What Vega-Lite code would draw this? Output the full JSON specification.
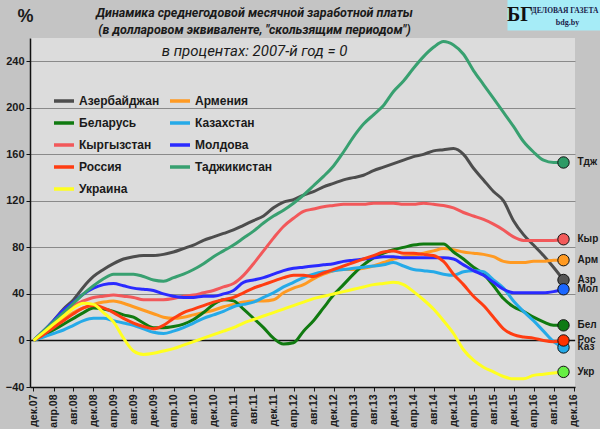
{
  "$schema": "https://vega.github.io/schema/vega-lite/v6.json",
  "width": 545,
  "height": 349,
  "autosize": {"type": "none"},
  "padding": {"left": 30, "top": 38, "right": 25, "bottom": 42},
  "background": "#c4c4c4",
  "config": {
    "view": {"fill": "#dcdcdc", "stroke": null},
    "font": "Liberation Sans",
    "axisX": {"labelOverlap": false}
  },
  "title": {
    "text": ["Динамика среднегодовой  месячной  заработной платы", "(в долларовом эквиваленте, \"скользящим периодом\")"],
    "subtitle": "в процентах: 2007-й год = 0",
    "anchor": "middle",
    "dx": -48,
    "dy": 60,
    "offset": 0,
    "font": "Roboto",
    "fontSize": 12.5,
    "fontStyle": "italic",
    "fontWeight": "bold",
    "color": "#1a1a1a",
    "lineHeight": 17,
    "subtitleFont": "Roboto",
    "subtitleFontSize": 15,
    "subtitleFontStyle": "italic",
    "subtitleColor": "#1a1a1a",
    "subtitlePadding": 8
  },
  "data": {"name": "wages"},
  "datasets": {
    "wages": [
      {"m": 0, "Азербайджан": 0, "Армения": 0, "Беларусь": 0, "Казахстан": 0, "Кыргызстан": 0, "Молдова": 0, "Россия": 0, "Таджикистан": 0, "Украина": 0},
      {"m": 2, "Азербайджан": 8, "Армения": 6, "Беларусь": 4, "Казахстан": 3, "Кыргызстан": 7, "Молдова": 8, "Россия": 5, "Таджикистан": 8, "Украина": 7},
      {"m": 4, "Азербайджан": 17, "Армения": 12, "Беларусь": 9, "Казахстан": 6, "Кыргызстан": 15, "Молдова": 17, "Россия": 11, "Таджикистан": 16, "Украина": 14},
      {"m": 6, "Азербайджан": 27, "Армения": 18, "Беларусь": 14, "Казахстан": 9, "Кыргызстан": 22, "Молдова": 26, "Россия": 17, "Таджикистан": 24, "Украина": 21},
      {"m": 8, "Азербайджан": 35, "Армения": 24, "Беларусь": 19, "Казахстан": 13, "Кыргызстан": 30, "Молдова": 33, "Россия": 23, "Таджикистан": 32, "Украина": 28},
      {"m": 10, "Азербайджан": 46, "Армения": 28, "Беларусь": 24, "Казахстан": 17, "Кыргызстан": 34, "Молдова": 40, "Россия": 28, "Таджикистан": 40, "Украина": 32},
      {"m": 12, "Азербайджан": 55, "Армения": 31, "Беларусь": 28, "Казахстан": 19, "Кыргызстан": 37, "Молдова": 45, "Россия": 30, "Таджикистан": 47, "Украина": 31},
      {"m": 14, "Азербайджан": 61, "Армения": 33, "Беларусь": 27, "Казахстан": 19, "Кыргызстан": 38, "Молдова": 48, "Россия": 28, "Таджикистан": 53, "Украина": 24},
      {"m": 16, "Азербайджан": 66, "Армения": 34, "Беларусь": 25, "Казахстан": 17, "Кыргызстан": 39, "Молдова": 49, "Россия": 24, "Таджикистан": 57, "Украина": 16},
      {"m": 18, "Азербайджан": 70, "Армения": 32, "Беларусь": 22, "Казахстан": 15, "Кыргызстан": 38, "Молдова": 47, "Россия": 19, "Таджикистан": 57, "Украина": 2},
      {"m": 20, "Азербайджан": 72, "Армения": 29, "Беларусь": 20, "Казахстан": 13, "Кыргызстан": 37, "Молдова": 45, "Россия": 15, "Таджикистан": 57, "Украина": -9},
      {"m": 22, "Азербайджан": 73, "Армения": 26, "Беларусь": 15, "Казахстан": 10, "Кыргызстан": 35, "Молдова": 44, "Россия": 12, "Таджикистан": 55, "Украина": -12},
      {"m": 24, "Азербайджан": 73, "Армения": 23, "Беларусь": 11, "Казахстан": 7, "Кыргызстан": 35, "Молдова": 43, "Россия": 10, "Таджикистан": 52, "Украина": -11},
      {"m": 26, "Азербайджан": 74, "Армения": 20, "Беларусь": 11, "Казахстан": 6, "Кыргызстан": 35, "Молдова": 40, "Россия": 13, "Таджикистан": 51, "Украина": -9},
      {"m": 28, "Азербайджан": 76, "Армения": 19, "Беларусь": 12, "Казахстан": 8, "Кыргызстан": 36, "Молдова": 38, "Россия": 19, "Таджикистан": 54, "Украина": -7},
      {"m": 30, "Азербайджан": 79, "Армения": 20, "Беларусь": 14, "Казахстан": 11, "Кыргызстан": 38, "Молдова": 37, "Россия": 24, "Таджикистан": 57, "Украина": -4},
      {"m": 32, "Азербайджан": 82, "Армения": 22, "Беларусь": 18, "Казахстан": 15, "Кыргызстан": 39, "Молдова": 37, "Россия": 27, "Таджикистан": 61, "Украина": -1},
      {"m": 34, "Азербайджан": 86, "Армения": 24, "Беларусь": 24, "Казахстан": 19, "Кыргызстан": 41, "Молдова": 38, "Россия": 30, "Таджикистан": 66, "Украина": 2},
      {"m": 36, "Азербайджан": 89, "Армения": 26, "Беларусь": 31, "Казахстан": 22, "Кыргызстан": 43, "Молдова": 38, "Россия": 33, "Таджикистан": 72, "Украина": 5},
      {"m": 38, "Азербайджан": 92, "Армения": 29, "Беларусь": 35, "Казахстан": 25, "Кыргызстан": 46, "Молдова": 40, "Россия": 35, "Таджикистан": 77, "Украина": 8},
      {"m": 40, "Азербайджан": 95, "Армения": 31, "Беларусь": 34, "Казахстан": 29, "Кыргызстан": 49, "Молдова": 43, "Россия": 37, "Таджикистан": 82, "Украина": 11},
      {"m": 42, "Азербайджан": 99, "Армения": 33, "Беларусь": 27, "Казахстан": 31, "Кыргызстан": 56, "Молдова": 50, "Россия": 41, "Таджикистан": 88, "Украина": 15},
      {"m": 44, "Азербайджан": 103, "Армения": 34, "Беларусь": 19, "Казахстан": 33, "Кыргызстан": 66, "Молдова": 52, "Россия": 45, "Таджикистан": 94, "Украина": 18},
      {"m": 46, "Азербайджан": 107, "Армения": 34, "Беларусь": 11, "Казахстан": 37, "Кыргызстан": 77, "Молдова": 54, "Россия": 48, "Таджикистан": 101, "Украина": 21},
      {"m": 48, "Азербайджан": 114, "Армения": 35, "Беларусь": 2, "Казахстан": 41, "Кыргызстан": 88, "Молдова": 57, "Россия": 51, "Таджикистан": 107, "Украина": 24},
      {"m": 50, "Азербайджан": 119, "Армения": 41, "Беларусь": -3, "Казахстан": 46, "Кыргызстан": 98, "Молдова": 60, "Россия": 54, "Таджикистан": 112, "Украина": 27},
      {"m": 52, "Азербайджан": 121, "Армения": 45, "Беларусь": -2, "Казахстан": 50, "Кыргызстан": 105, "Молдова": 62, "Россия": 56, "Таджикистан": 118, "Украина": 30},
      {"m": 54, "Азербайджан": 125, "Армения": 48, "Беларусь": 8, "Казахстан": 54, "Кыргызстан": 111, "Молдова": 63, "Россия": 56, "Таджикистан": 125, "Украина": 33},
      {"m": 56, "Азербайджан": 128, "Армения": 53, "Беларусь": 17, "Казахстан": 57, "Кыргызстан": 113, "Молдова": 64, "Россия": 55, "Таджикистан": 133, "Украина": 36},
      {"m": 58, "Азербайджан": 132, "Армения": 57, "Беларусь": 28, "Казахстан": 59, "Кыргызстан": 115, "Молдова": 65, "Россия": 58, "Таджикистан": 141, "Украина": 38},
      {"m": 60, "Азербайджан": 135, "Армения": 60, "Беларусь": 39, "Казахстан": 60, "Кыргызстан": 116, "Молдова": 66, "Россия": 61, "Таджикистан": 150, "Украина": 40},
      {"m": 62, "Азербайджан": 138, "Армения": 61, "Беларусь": 48, "Казахстан": 61, "Кыргызстан": 117, "Молдова": 68, "Россия": 64, "Таджикистан": 162, "Украина": 42},
      {"m": 64, "Азербайджан": 140, "Армения": 61, "Беларусь": 57, "Казахстан": 62, "Кыргызстан": 117, "Молдова": 69, "Россия": 67, "Таджикистан": 175, "Украина": 44},
      {"m": 66, "Азербайджан": 142, "Армения": 62, "Беларусь": 65, "Казахстан": 63, "Кыргызстан": 117, "Молдова": 70, "Россия": 70, "Таджикистан": 186, "Украина": 46},
      {"m": 68, "Азербайджан": 146, "Армения": 64, "Беларусь": 71, "Казахстан": 64, "Кыргызстан": 118, "Молдова": 71, "Россия": 73, "Таджикистан": 194, "Украина": 48},
      {"m": 70, "Азербайджан": 149, "Армения": 67, "Беларусь": 75, "Казахстан": 65, "Кыргызстан": 118, "Молдова": 72, "Россия": 76, "Таджикистан": 202, "Украина": 49},
      {"m": 72, "Азербайджан": 152, "Армения": 70, "Беларусь": 78, "Казахстан": 67, "Кыргызстан": 118, "Молдова": 72, "Россия": 77, "Таджикистан": 214, "Украина": 50},
      {"m": 74, "Азербайджан": 155, "Армения": 72, "Беларусь": 80, "Казахстан": 64, "Кыргызстан": 117, "Молдова": 71, "Россия": 75, "Таджикистан": 223, "Украина": 48},
      {"m": 76, "Азербайджан": 158, "Армения": 73, "Беларусь": 82, "Казахстан": 61, "Кыргызстан": 117, "Молдова": 71, "Россия": 75, "Таджикистан": 234, "Украина": 42},
      {"m": 78, "Азербайджан": 160, "Армения": 75, "Беларусь": 83, "Казахстан": 60, "Кыргызстан": 118, "Молдова": 71, "Россия": 74, "Таджикистан": 244, "Украина": 35},
      {"m": 80, "Азербайджан": 163, "Армения": 77, "Беларусь": 83, "Казахстан": 59, "Кыргызстан": 117, "Молдова": 71, "Россия": 73, "Таджикистан": 252, "Украина": 27},
      {"m": 82, "Азербайджан": 164, "Армения": 79, "Беларусь": 83, "Казахстан": 57, "Кыргызстан": 116, "Молдова": 71, "Россия": 68, "Таджикистан": 257, "Украина": 17},
      {"m": 84, "Азербайджан": 165, "Армения": 78, "Беларусь": 76, "Казахстан": 56, "Кыргызстан": 114, "Молдова": 70, "Россия": 57, "Таджикистан": 254, "Украина": 6},
      {"m": 86, "Азербайджан": 160, "Армения": 76, "Беларусь": 70, "Казахстан": 59, "Кыргызстан": 110, "Молдова": 65, "Россия": 48, "Таджикистан": 246, "Украина": -8},
      {"m": 88, "Азербайджан": 148, "Армения": 75, "Беларусь": 63, "Казахстан": 60, "Кыргызстан": 107, "Молдова": 60, "Россия": 38, "Таджикистан": 232, "Украина": -17},
      {"m": 90, "Азербайджан": 138, "Армения": 74, "Беларусь": 57, "Казахстан": 59, "Кыргызстан": 104, "Молдова": 56, "Россия": 30, "Таджикистан": 220, "Украина": -23},
      {"m": 92, "Азербайджан": 128, "Армения": 72, "Беларусь": 47, "Казахстан": 52, "Кыргызстан": 100, "Молдова": 50, "Россия": 20, "Таджикистан": 208, "Украина": -27},
      {"m": 94, "Азербайджан": 120, "Армения": 68, "Беларусь": 36, "Казахстан": 45, "Кыргызстан": 95, "Молдова": 44, "Россия": 10, "Таджикистан": 196, "Украина": -31},
      {"m": 96, "Азербайджан": 103, "Армения": 67, "Беларусь": 29, "Казахстан": 34, "Кыргызстан": 89, "Молдова": 41, "Россия": 5, "Таджикистан": 184, "Украина": -33},
      {"m": 98, "Азербайджан": 91, "Армения": 67, "Беларусь": 25, "Казахстан": 25, "Кыргызстан": 86, "Молдова": 41, "Россия": 3, "Таджикистан": 171, "Украина": -33},
      {"m": 100, "Азербайджан": 82, "Армения": 68, "Беларусь": 20, "Казахстан": 17, "Кыргызстан": 86, "Молдова": 41, "Россия": 2, "Таджикистан": 162, "Украина": -30},
      {"m": 102, "Азербайджан": 73, "Армения": 68, "Беларусь": 16, "Казахстан": 8, "Кыргызстан": 86, "Молдова": 41, "Россия": 0, "Таджикистан": 155, "Украина": -29},
      {"m": 104, "Азербайджан": 63, "Армения": 69, "Беларусь": 13, "Казахстан": -1, "Кыргызстан": 86, "Молдова": 42, "Россия": -1, "Таджикистан": 153, "Украина": -28},
      {"m": 106, "Азербайджан": 52, "Армения": 69, "Беларусь": 13, "Казахстан": -6, "Кыргызстан": 87, "Молдова": 44, "Россия": 0, "Таджикистан": 153, "Украина": -27}
    ],
    "abbr": [
      {"c": "Азербайджан", "lab": "Азр"},
      {"c": "Армения", "lab": "Арм"},
      {"c": "Беларусь", "lab": "Бел"},
      {"c": "Казахстан", "lab": "Каз"},
      {"c": "Кыргызстан", "lab": "Кыр"},
      {"c": "Молдова", "lab": "Мол"},
      {"c": "Россия", "lab": "Рос"},
      {"c": "Таджикистан", "lab": "Тдж"},
      {"c": "Украина", "lab": "Укр"}
    ]
  },
  "resolve": {"scale": {"color": "independent"}},
  "layer": [
    {
      "data": {"values": [{}]},
      "mark": {"type": "rule", "color": "#111111", "strokeWidth": 1.5},
      "encoding": {"y": {"datum": 0}}
    },
    {
      "transform": [{"fold": ["Азербайджан", "Армения", "Беларусь", "Казахстан", "Кыргызстан", "Молдова", "Россия", "Таджикистан", "Украина"], "as": ["c", "v"]}],
      "mark": {"type": "line", "strokeWidth": 3, "interpolate": "monotone"},
      "encoding": {
        "x": {
          "field": "m",
          "type": "quantitative",
          "scale": {"domain": [-0.7, 108.3], "nice": false, "zero": false},
          "axis": {
            "values": [0, 4, 8, 12, 16, 20, 24, 28, 32, 36, 40, 44, 48, 52, 56, 60, 64, 68, 72, 76, 80, 84, 88, 92, 96, 100, 104, 108],
            "tickCount": 40,
            "labelExpr": "['дек','апр','авг'][(datum.value / 4) % 3] + '.' + (7 + floor((datum.value + 11) / 12) < 10 ? '0' : '') + (7 + floor((datum.value + 11) / 12))",
            "labelAngle": -90,
            "labelOverlap": false,
            "labelFontWeight": "bold",
            "labelFontSize": 10.5,
            "labelColor": "#1a1a1a",
            "labelPadding": 3,
            "title": null,
            "grid": false,
            "domainColor": "#111111",
            "domainWidth": 1.5,
            "tickColor": "#111111",
            "tickSize": 4
          }
        },
        "y": {
          "field": "v",
          "type": "quantitative",
          "scale": {"domain": [-40, 260], "nice": false},
          "axis": {
            "values": [-40, 0, 40, 80, 120, 160, 200, 240],
            "grid": true,
            "gridColor": "#8a8a8a",
            "gridWidth": 1,
            "domainColor": "#111111",
            "domainWidth": 1.5,
            "tickColor": "#111111",
            "tickSize": 4,
            "labelFontWeight": "bold",
            "labelFontSize": 11,
            "labelColor": "#1a1a1a",
            "labelPadding": 2,
            "title": "%",
            "titleAngle": 0,
            "titleFontSize": 18,
            "titleFontWeight": "bold",
            "titleColor": "#1a1a1a",
            "titleAlign": "center",
            "titleBaseline": "alphabetic",
            "titleX": -5,
            "titleY": -17
          }
        },
        "color": {
          "field": "c",
          "type": "nominal",
          "scale": {
            "domain": ["Азербайджан", "Армения", "Беларусь", "Казахстан", "Кыргызстан", "Молдова", "Россия", "Таджикистан", "Украина"],
            "range": ["#4d4d4d", "#ff9a22", "#107a10", "#25aae8", "#f2585a", "#2a2aff", "#ff3d12", "#38a070", "#ffff20"]
          },
          "legend": {
            "title": null,
            "orient": "none",
            "legendX": 22,
            "legendY": 51,
            "columns": 2,
            "direction": "horizontal",
            "padding": 0,
            "symbolType": "stroke",
            "symbolSize": 400,
            "symbolStrokeWidth": 3.5,
            "labelFontSize": 12,
            "labelFontWeight": "bold",
            "labelColor": "#1a1a1a",
            "labelOffset": 3,
            "rowPadding": 3,
            "columnPadding": 3
          }
        }
      }
    },
    {
      "transform": [
        {"fold": ["Азербайджан", "Армения", "Беларусь", "Казахстан", "Кыргызстан", "Молдова", "Россия", "Таджикистан", "Украина"], "as": ["c", "v"]},
        {"filter": "datum.m == 106"}
      ],
      "mark": {"type": "point", "filled": true, "size": 130, "stroke": "#111111", "strokeWidth": 1, "opacity": 1},
      "encoding": {
        "x": {"field": "m", "type": "quantitative"},
        "y": {"field": "v", "type": "quantitative"},
        "fill": {
          "field": "c",
          "type": "nominal",
          "scale": {
            "domain": ["Азербайджан", "Армения", "Беларусь", "Казахстан", "Кыргызстан", "Молдова", "Россия", "Таджикистан", "Украина"],
            "range": ["#555555", "#ff9a22", "#0f7a14", "#25aae8", "#f25a5a", "#1a66ff", "#ff3300", "#2e9a66", "#66ee44"]
          },
          "legend": null
        }
      }
    },
    {
      "transform": [
        {"fold": ["Азербайджан", "Армения", "Беларусь", "Казахстан", "Кыргызстан", "Молдова", "Россия", "Таджикистан", "Украина"], "as": ["c", "v"]},
        {"filter": "datum.m == 106"},
        {"lookup": "c", "from": {"data": {"name": "abbr"}, "key": "c", "fields": ["lab"]}}
      ],
      "mark": {"type": "text", "align": "left", "baseline": "middle", "dx": 14, "fontWeight": "bold", "fontSize": 10, "color": "#1a1a1a"},
      "encoding": {
        "x": {"field": "m", "type": "quantitative"},
        "y": {"field": "v", "type": "quantitative"},
        "text": {"field": "lab"}
      }
    },
    {
      "data": {"values": [{}]},
      "mark": {"type": "rect", "fill": "#a6ecf7"},
      "encoding": {
        "x": {"datum": 94.8},
        "x2": {"datum": 113.5},
        "y": {"datum": 293.5},
        "y2": {"datum": 266.5}
      }
    },
    {
      "data": {"values": [{}]},
      "mark": {"type": "text", "text": "БГ", "font": "Liberation Serif", "fontWeight": "bold", "fontSize": 20, "color": "#111111", "align": "center", "baseline": "middle"},
      "encoding": {"x": {"datum": 97.3}, "y": {"datum": 279.5}}
    },
    {
      "data": {"values": [{}]},
      "mark": {"type": "text", "text": "ДЕЛОВАЯ ГАЗЕТА", "font": "Liberation Serif", "fontWeight": "bold", "fontSize": 7.5, "color": "#1a1a4a", "align": "center", "baseline": "middle"},
      "encoding": {"x": {"datum": 106.3}, "y": {"datum": 283}}
    },
    {
      "data": {"values": [{}]},
      "mark": {"type": "text", "text": "bdg.by", "font": "Liberation Serif", "fontWeight": "bold", "fontSize": 8, "color": "#1a1a4a", "align": "center", "baseline": "middle"},
      "encoding": {"x": {"datum": 106.8}, "y": {"datum": 273}}
    }
  ]
}
